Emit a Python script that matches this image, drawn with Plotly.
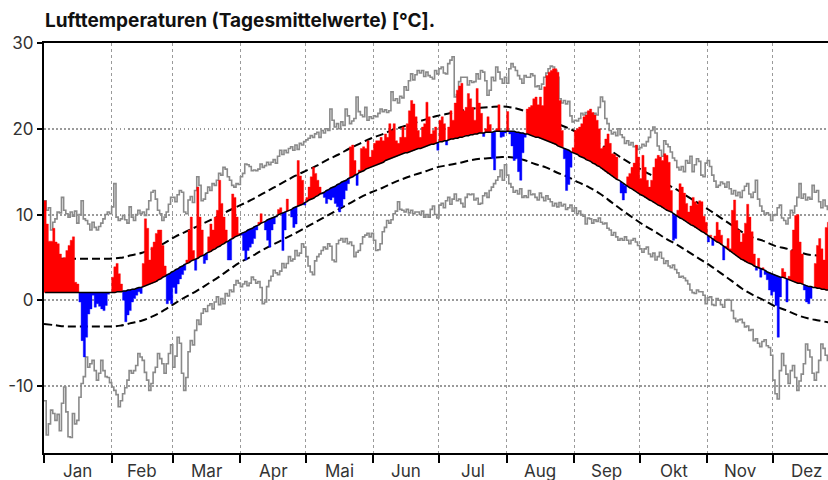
import plotly.graph_objects as go

# ---------------- data (day-of-year index 0 = 1 Jan) ----------------
months = ["Jan", "Feb", "Mar", "Apr", "Mai", "Jun", "Jul", "Aug", "Sep", "Okt", "Nov", "Dez"]
month_len = [31, 28, 31, 30, 31, 30, 31, 31, 30, 31, 30, 31]

# observed daily mean temperature
obs = [
    # Jan
    11.6, 8.9, 6.9, 6.9, 8.4, 6.8, 6.6, 5.4, 4.9, 5.0, 5.8, 6.4, 7.0, 7.4, 2.1, 1.9, -0.2, -4.7, -6.6, -4.3,
    -1.6, -1.0, 0.6, -0.8, -0.4, -0.7, -1.0, -1.2, -0.6, 0.7, 0.9,
    # Feb
    2.7, 3.9, 4.3, 3.1, 1.9, 0.0, -2.5, -1.7, -1.2, -0.2, 0.2, 0.6, 1.0, 0.8, 4.3, 9.5, 8.4, 4.7, 6.2, 6.8,
    7.8, 8.2, 8.2, 6.4, 4.0, -0.4, 0.0, -0.4,
    # Mar
    1.5, 0.8, 1.9, 2.5, 3.0, 3.5, 4.7, 8.2, 9.7, 5.8, 3.5, 13.2, 9.7, 8.2, 4.3, 4.7, 7.4, 8.9, 8.2, 9.7,
    10.5, 14.0, 11.3, 9.7, 8.2, 4.7, 4.7, 12.4, 12.0, 9.7, 7.8,
    # Apr
    7.6, 5.8, 4.7, 5.8, 6.2, 6.6, 7.2, 8.2, 9.1, 10.1, 9.1, 8.2, 7.0, 6.2, 8.2, 8.9, 9.7, 10.6, 10.8, 5.8,
    8.2, 11.8, 10.5, 9.7, 8.5, 8.9, 16.3, 14.5, 14.0, 11.1,
    # Mai
    12.0, 13.2, 14.4, 15.5, 14.8, 14.0, 13.2, 12.4, 12.0, 11.3, 11.8, 11.7, 12.0, 11.3, 10.9, 10.3, 10.9, 11.8, 12.8, 13.6,
    17.9, 18.1, 16.3, 13.4, 15.2, 17.7, 17.9, 17.7, 18.6, 16.7, 17.5,
    # Jun
    18.3, 18.6, 18.6, 19.0, 18.6, 19.4, 19.0, 20.6, 19.8, 20.6, 18.6, 18.3, 19.0, 20.2, 19.0, 20.6, 22.1, 23.3, 22.9, 21.4,
    19.8, 19.0, 20.2, 20.6, 23.1, 21.4, 19.4, 19.8, 20.2, 17.5,
    # Jul
    21.0, 21.4, 20.6, 18.1, 20.2, 22.1, 21.0, 23.0, 24.5, 25.0, 25.3, 22.1, 22.5, 24.1, 23.5, 22.5, 21.0, 24.7, 23.0, 21.8,
    19.1, 20.0, 21.4, 20.5, 16.5, 15.2, 20.0, 22.8, 19.0, 19.1, 19.5,
    # Aug
    22.0, 19.4, 18.0, 16.3, 16.5, 15.0, 14.0, 17.2, 19.0, 22.3, 22.5, 22.7, 23.5, 23.7, 22.8, 23.7, 22.7, 24.9, 26.2, 26.6,
    26.8, 27.0, 27.0, 26.6, 23.3, 19.8, 16.5, 12.8, 13.5, 15.5, 17.8,
    # Sep
    19.8, 20.0, 20.2, 20.6, 21.4, 21.6, 22.1, 22.3, 21.9, 21.6, 21.0, 20.0, 17.7, 17.9, 18.8, 19.4, 18.3, 17.1, 17.0, 16.7,
    14.0, 12.5, 11.7, 12.5, 14.4, 14.8, 15.5, 16.0, 18.1, 16.7,
    # Okt
    14.2, 16.9, 15.5, 14.0, 13.2, 14.0, 15.5, 16.5, 16.9, 16.7, 16.3, 17.1, 16.9, 16.1, 12.8, 7.0, 7.2, 10.5, 13.6, 13.2,
    12.5, 11.3, 10.3, 11.0, 12.0, 11.5, 11.2, 11.6, 11.5, 9.8, 9.1,
    # Nov
    6.8, 7.6, 6.4, 7.5, 9.1, 8.2, 7.6, 4.7, 6.3, 7.2, 6.0, 10.5, 11.7, 9.3, 8.2, 6.8, 7.8, 9.0, 11.2, 9.7,
    8.0, 5.4, 3.5, 4.9, 2.7, 3.8, 3.0, 2.4, 1.2, 0.6,
    # Dez
    1.0, -0.6, -4.3, 0.4, 3.7, 3.3, -0.2, 2.8, 5.8, 8.2, 9.9, 10.0, 6.8, 5.4, 1.2, -0.2, -0.4, 0.2, 1.5, 4.3,
    6.4, 7.2, 6.0, 4.7, 8.5, 9.1, 7.0, 6.0, 5.5, 4.0, 3.0,
]

# long-term mean (black line)
clim_mean = [
    # Jan
    0.9, 0.9, 0.9, 0.9, 0.9, 0.9, 0.9, 0.9, 0.9, 0.9, 0.9, 0.9, 0.9, 0.9, 0.9, 0.9, 0.9, 0.9, 0.9, 0.9,
    0.9, 0.9, 0.9, 0.9, 0.9, 0.9, 0.9, 0.9, 0.9, 0.9, 0.9,
    # Feb
    0.9, 0.9, 1.0, 1.0, 1.0, 1.1, 1.1, 1.2, 1.2, 1.3, 1.3, 1.4, 1.5, 1.5, 1.6, 1.7, 1.8, 1.9, 2.0, 2.1,
    2.2, 2.4, 2.5, 2.7, 2.8, 3.0, 3.1, 3.3,
    # Mar
    3.4, 3.6, 3.7, 3.9, 4.0, 4.2, 4.3, 4.4, 4.6, 4.7, 4.8, 4.9, 5.1, 5.2, 5.3, 5.5, 5.6, 5.7, 5.9, 6.0,
    6.2, 6.3, 6.5, 6.6, 6.8, 6.9, 7.1, 7.2, 7.4, 7.5, 7.6,
    # Apr
    7.8, 7.9, 8.0, 8.2, 8.3, 8.4, 8.6, 8.7, 8.8, 9.0, 9.1, 9.2, 9.4, 9.5, 9.6, 9.7, 9.8, 10.0, 10.1, 10.2,
    10.3, 10.4, 10.5, 10.6, 10.8, 10.9, 11.0, 11.1, 11.2, 11.4,
    # Mai
    11.5, 11.7, 11.8, 11.9, 12.1, 12.2, 12.4, 12.5, 12.6, 12.8, 12.9, 13.1, 13.2, 13.3, 13.5, 13.6, 13.8, 13.9, 14.0, 14.2,
    14.3, 14.4, 14.6, 14.7, 14.9, 15.0, 15.1, 15.3, 15.4, 15.5, 15.6,
    # Jun
    15.7, 15.8, 15.9, 16.0, 16.1, 16.3, 16.4, 16.5, 16.6, 16.7, 16.8, 16.9, 17.0, 17.1, 17.2, 17.2, 17.3, 17.4, 17.5, 17.6,
    17.7, 17.7, 17.8, 17.9, 18.0, 18.1, 18.2, 18.2, 18.3, 18.4,
    # Jul
    18.5, 18.5, 18.6, 18.6, 18.7, 18.8, 18.8, 18.9, 18.9, 19.0, 19.0, 19.1, 19.2, 19.2, 19.3, 19.3, 19.4, 19.4, 19.5, 19.5,
    19.5, 19.6, 19.6, 19.6, 19.6, 19.7, 19.7, 19.7, 19.7, 19.7, 19.7,
    # Aug
    19.7, 19.7, 19.7, 19.7, 19.6, 19.6, 19.5, 19.5, 19.4, 19.4, 19.3, 19.2, 19.1, 19.0, 19.0, 18.9, 18.8, 18.7, 18.6, 18.5,
    18.4, 18.3, 18.2, 18.0, 17.9, 17.8, 17.7, 17.6, 17.5, 17.3, 17.2,
    # Sep
    17.1, 17.0, 16.8, 16.7, 16.6, 16.4, 16.3, 16.2, 16.0, 15.9, 15.7, 15.6, 15.4, 15.2, 15.0, 14.8, 14.7, 14.5, 14.3, 14.1,
    14.0, 13.8, 13.6, 13.4, 13.3, 13.1, 13.0, 12.8, 12.7, 12.5,
    # Okt
    12.3, 12.2, 12.0, 11.9, 11.7, 11.6, 11.4, 11.3, 11.1, 11.0, 10.8, 10.7, 10.5, 10.4, 10.3, 10.1, 9.9, 9.8, 9.6, 9.5,
    9.3, 9.2, 9.0, 8.8, 8.7, 8.5, 8.4, 8.2, 8.0, 7.9, 7.7,
    # Nov
    7.5, 7.4, 7.2, 7.0, 6.8, 6.7, 6.5, 6.3, 6.1, 5.9, 5.7, 5.6, 5.4, 5.2, 5.0, 4.8, 4.7, 4.5, 4.4, 4.3,
    4.2, 4.0, 3.9, 3.8, 3.7, 3.6, 3.5, 3.3, 3.2, 3.1,
    # Dez
    3.0, 2.9, 2.8, 2.7, 2.7, 2.6, 2.5, 2.4, 2.3, 2.2, 2.1, 2.0, 2.0, 1.9, 1.8, 1.7, 1.6, 1.6, 1.5, 1.5,
    1.4, 1.4, 1.3, 1.3, 1.2, 1.2, 1.2, 1.1, 1.1, 1.0, 1.0,
]

# record highest daily mean (grey, upper)
rec_max = [
    11.6, 10.5, 10.8, 8.2, 9.1, 9.5, 10.3, 10.2, 12.0, 10.5, 10.1, 9.7, 10.3, 9.8, 10.4, 9.0, 10.0, 11.6, 9.5, 9.3,
    8.9, 8.2, 9.1, 8.5, 8.2, 8.6, 9.0, 9.5, 10.0, 10.3, 10.1,
    10.9, 13.6, 9.7, 9.3, 9.5, 9.9, 9.4, 9.0, 10.9, 9.7, 9.3, 10.0, 10.5, 10.1, 10.3, 9.9, 10.6, 11.6, 12.6, 12.8,
    11.8, 10.5, 10.1, 9.3, 9.7, 10.3, 11.2, 12.0,
    12.0, 11.5, 12.3, 12.8, 12.6, 10.3, 10.1, 11.7, 12.1, 11.4, 12.8, 14.4, 13.4, 11.6, 11.8, 12.5, 13.2, 12.8, 13.6, 13.4,
    14.0, 14.8, 14.6, 15.5, 15.3, 14.4, 14.0, 13.4, 13.2, 13.6, 13.5,
    14.4, 14.8, 15.9, 15.8, 15.6, 15.1, 15.2, 15.1, 15.3, 15.9, 15.5, 15.7, 16.1, 15.8, 16.1, 16.4, 16.0, 16.8, 17.5, 17.0,
    17.5, 17.2, 17.7, 17.9, 17.5, 18.1, 17.6, 18.3, 18.1, 18.5,
    18.7, 18.9, 19.2, 19.0, 19.4, 19.6, 19.0, 19.8, 19.5, 20.0, 19.8, 22.3, 21.0, 20.2, 20.6, 20.0, 20.8, 20.4, 22.3, 21.5,
    20.6, 20.9, 21.2, 23.7, 22.0, 21.6, 21.4, 22.5, 21.0, 21.4, 21.2,
    21.5, 21.4, 21.8, 22.3, 22.0, 22.2, 21.9, 22.1, 24.3, 23.3, 23.5, 23.0, 23.8, 23.6, 24.9, 24.5, 25.6, 26.4, 25.7, 26.3,
    26.8, 26.5, 26.8, 26.1, 26.6, 26.2, 26.0, 25.8, 26.8, 26.4,
    27.0, 27.2, 26.5, 26.4, 27.6, 28.0, 28.4, 23.7, 24.0, 25.5, 26.0, 26.0, 26.0, 25.1, 25.6, 25.4, 25.5, 26.4, 25.8, 26.8,
    26.6, 25.6, 23.9, 24.5, 26.0, 25.6, 27.2, 26.6, 25.8, 25.3, 26.0,
    25.3, 27.0, 27.6, 27.2, 26.8, 26.2, 25.8, 25.3, 26.2, 26.0, 26.0, 26.4, 26.2, 24.9, 25.0, 24.6, 25.2, 26.0, 26.5, 27.0,
    27.3, 27.2, 26.8, 26.0, 23.5, 23.0, 23.3, 22.9, 23.2, 21.5, 20.8,
    21.0, 20.9, 21.2, 21.8, 21.6, 21.9, 21.4, 21.5, 21.3, 21.8, 21.6, 22.5, 23.7, 23.2, 21.2, 20.6, 19.8, 19.4, 19.6, 19.2,
    20.0, 19.3, 19.0, 18.3, 18.6, 18.1, 18.4, 17.9, 18.0, 17.6,
    17.8, 18.2, 18.0, 18.5, 19.0, 19.8, 20.2, 19.5, 18.0, 17.5, 16.8, 18.6, 18.2, 17.9, 17.3, 16.6, 16.3, 15.5, 15.2, 15.6,
    15.0, 16.3, 16.0, 16.8, 15.0, 15.8, 16.5, 16.2, 14.6, 14.4, 16.0,
    16.3, 15.6, 14.6, 13.9, 13.2, 13.4, 13.8, 13.6, 13.2, 13.8, 13.0, 12.4, 12.8, 12.2, 12.6, 12.0, 12.8, 13.3, 13.6, 12.4,
    12.0, 12.6, 14.0, 11.8, 11.0, 10.4, 10.0, 10.2, 10.0, 9.3,
    9.9, 10.0, 10.8, 11.1, 9.6, 9.3, 8.9, 9.6, 10.5, 10.2, 11.0, 12.0, 13.6, 11.9, 12.4, 11.7, 12.0, 11.8, 13.4, 12.6,
    12.8, 11.5, 10.8, 11.7, 11.0, 10.6, 10.5, 11.0, 10.4, 10.8, 11.2,
]

# record lowest daily mean (grey, lower)
rec_min = [
    -11.7, -15.7, -14.4, -12.8, -13.2, -14.0, -13.3, -15.2, -12.0, -10.1, -13.0, -15.9, -16.0, -13.2, -14.4, -14.0, -11.3, -9.7, -8.9, -6.6,
    -7.8, -7.4, -7.0, -8.2, -9.3, -8.5, -7.0, -8.2, -8.9, -9.0, -9.6,
    -10.1, -10.5, -11.0, -12.4, -11.7, -10.9, -10.2, -9.3, -8.2, -8.5, -8.2, -7.6, -6.2, -6.6, -7.0, -8.4, -9.3, -10.5, -9.7, -8.4,
    -7.8, -6.2, -6.8, -7.4, -8.5, -7.4, -6.2, -5.2,
    -7.8, -6.5, -4.3, -5.0, -8.5, -10.5, -9.0, -6.0, -4.7, -5.2, -3.5, -2.3, -2.8, -1.5, -1.0, -1.3, -0.6, -0.4, -1.0, -0.2,
    0.4, -0.5, 0.2, -0.4, 0.8, 0.5, 1.2, 1.0, 1.8, 2.3, 2.0,
    1.6, 1.9, 2.2, 1.7, 2.0, 2.7, 2.4, 2.0, 2.2, 1.5, -0.4, -0.2, 1.6, 2.3, 2.8, 3.5, 3.2, 3.0, 3.4, 4.3,
    3.8, 4.3, 5.1, 4.6, 4.8, 5.8, 5.2, 5.5, 6.6, 6.2,
    5.1, 4.0, 3.3, 3.0, 4.6, 5.1, 5.4, 5.8, 6.2, 6.0, 6.6, 6.3, 4.7, 4.5, 6.6, 7.0, 7.2, 6.8, 7.2, 6.6,
    6.8, 6.4, 5.1, 5.6, 5.8, 6.6, 7.4, 7.6, 7.8, 7.4, 7.8,
    7.0, 5.8, 5.9, 6.6, 8.0, 8.5, 9.3, 9.0, 9.4, 10.1, 10.4, 11.5, 10.6, 10.5, 10.3, 10.6, 10.2, 10.5, 10.1, 10.3,
    10.3, 10.0, 10.4, 9.7, 10.0, 9.7, 10.6, 11.0, 10.0, 9.6,
    11.1, 11.3, 10.8, 11.6, 12.0, 11.2, 11.8, 12.4, 11.6, 11.8, 11.3, 10.9, 12.0, 12.4, 12.3, 12.4, 11.7, 11.9, 11.2, 11.3,
    12.2, 12.5, 12.0, 12.8, 13.2, 13.6, 14.0, 14.4, 15.2, 14.0, 15.8,
    14.6, 13.6, 13.2, 12.6, 12.8, 12.4, 13.0, 12.0, 12.2, 12.0, 12.8, 12.3, 12.4, 12.0, 11.7, 12.5, 12.0, 11.6, 12.2, 11.8,
    11.5, 11.0, 11.3, 10.9, 11.4, 11.0, 11.2, 10.6, 10.8, 11.1, 10.4,
    10.8, 10.1, 10.4, 10.0, 9.8, 8.9, 9.6, 9.5, 9.0, 9.4, 9.2, 9.6, 9.1, 8.9, 9.0, 8.4, 8.2, 7.6, 7.9, 7.4,
    7.0, 7.2, 7.0, 7.4, 7.0, 6.6, 7.0, 7.2, 6.8, 6.4,
    6.0, 5.6, 6.0, 6.2, 5.4, 5.1, 5.5, 4.7, 5.1, 5.6, 4.9, 4.3, 4.6, 4.0, 3.8, 4.1, 3.6, 3.2, 2.7, 2.8,
    2.6, 2.3, 1.9, 1.2, 0.9, 0.8, 1.2, 1.0, 1.0, 0.6, -0.4,
    0.3, 0.4, -0.5, -0.6, 0.2, 0.0, -0.5, -0.8, 0.0, 0.1, 0.0, -1.2, -2.1, -2.5, -2.3, -2.2, -2.6, -3.1, -3.0, -3.5,
    -3.4, -4.7, -4.5, -5.0, -5.4, -4.8, -4.6, -5.3, -5.5, -6.4,
    -9.3, -10.9, -11.5, -8.2, -6.2, -7.6, -8.6, -9.7, -8.2, -7.6, -9.0, -10.5, -9.4, -8.6, -7.4, -5.1, -5.8, -6.6, -8.5, -9.3,
    -8.4, -7.0, -5.1, -5.6, -6.4, -7.0, -6.5, -7.2, -6.0, -6.8, -7.4,
]

# variability band (dashed), sampled every 5 days
band_days = [0, 5, 10, 15, 20, 25, 30, 35, 40, 45, 50, 55, 60, 65, 70, 75, 80, 85, 90, 95,
             100, 105, 110, 115, 120, 125, 130, 135, 140, 145, 150, 155, 160, 165, 170, 175, 180, 185, 190, 195,
             200, 205, 210, 215, 220, 225, 230, 235, 240, 245, 250, 255, 260, 265, 270, 275, 280, 285, 290, 295,
             300, 305, 310, 315, 320, 325, 330, 335, 340, 345, 350, 355, 360, 364]
band_upper = [4.85, 4.85, 4.85, 4.85, 4.85, 4.85, 4.85, 4.95, 5.25, 5.55, 6.0, 6.65, 7.4, 8.0, 8.6, 9.2, 9.8, 10.5, 11.1, 11.7,
              12.4, 13.1, 13.8, 14.5, 15.1, 15.7, 16.4, 17.0, 17.7, 18.3, 18.9, 19.35, 19.9, 20.3, 20.7, 21.1, 21.5, 21.75, 22.05, 22.3,
              22.45, 22.55, 22.6, 22.45, 22.1, 21.6, 21.2, 20.6, 20.1, 19.5, 18.9, 18.2, 17.4, 16.55, 15.8, 15.05, 14.35, 13.6, 12.9, 12.1,
              11.3, 10.5, 9.65, 8.8, 7.95, 7.3, 6.9, 6.35, 6.05, 5.7, 5.35, 5.2, 5.05, 4.85]
band_lower = [-2.75, -2.9, -3.05, -3.05, -3.05, -3.05, -3.05, -2.95, -2.65, -2.35, -1.85, -1.15, -0.35, 0.4, 1.1, 1.9, 2.7, 3.6, 4.45, 5.1,
              5.85, 6.5, 7.15, 7.8, 8.5, 9.2, 9.9, 10.6, 11.3, 12.0, 12.6, 13.1, 13.7, 14.2, 14.65, 15.05, 15.5, 15.75, 16.0, 16.3,
              16.5, 16.6, 16.7, 16.65, 16.35, 15.9, 15.5, 14.9, 14.4, 13.75, 13.15, 12.4, 11.45, 10.5, 9.6, 8.75, 8.0, 7.2, 6.5, 5.7,
              4.9, 4.1, 3.2, 2.3, 1.35, 0.6, 0.0, -0.7, -1.15, -1.7, -2.1, -2.35, -2.6, -2.8]

y_ticks = [-10, 0, 10, 20, 30]
y_tick_text = ["-10", "0", "10", "20", "30"]

assert len(obs) == 365, len(obs)
assert len(clim_mean) == 365, len(clim_mean)
assert len(rec_max) == 365, len(rec_max)
assert len(rec_min) == 365, len(rec_min)
assert len(band_days) == len(band_upper) == len(band_lower)

# ---------------- derived geometry ----------------
month_start = []
acc = 0
for L in month_len:
    month_start.append(acc)
    acc += L
month_mid = [s + L / 2 for s, L in zip(month_start, month_len)]
n = len(obs)


def anomaly_polygons(positive):
    xs, ys = [], []
    i = 0
    while i < n:
        d = obs[i] - clim_mean[i]
        ok = d > 0 if positive else d < 0
        if not ok:
            i += 1
            continue
        j = i
        while j + 1 < n:
            d2 = obs[j + 1] - clim_mean[j + 1]
            if (d2 > 0 if positive else d2 < 0):
                j += 1
            else:
                break
        px, py = [], []
        for k in range(i, j + 1):
            px += [k, k + 1]
            py += [obs[k], obs[k]]
        for k in range(j, i - 1, -1):
            px += [k + 1, k]
            py += [clim_mean[k], clim_mean[k]]
        px += [px[0], None]
        py += [py[0], None]
        xs += px
        ys += py
        i = j + 1
    return xs, ys


fig = go.Figure()

step_x = list(range(n + 1))
for rec in (rec_max, rec_min):
    fig.add_trace(go.Scatter(x=step_x, y=rec + [rec[-1]], mode="lines", line_shape="hv",
                             line=dict(color="#8a8a8a", width=1.6), hoverinfo="skip"))

for band in (band_upper, band_lower):
    fig.add_trace(go.Scatter(x=band_days, y=band, mode="lines", line_shape="spline",
                             line=dict(color="black", width=2, dash="8px,4px"), hoverinfo="skip"))

rx, ry = anomaly_polygons(True)
bx, by = anomaly_polygons(False)
fig.add_trace(go.Scatter(x=rx, y=ry, mode="lines", fill="toself", fillcolor="#ff0000",
                         line=dict(color="#ff0000", width=0.4), hoverinfo="skip"))
fig.add_trace(go.Scatter(x=bx, y=by, mode="lines", fill="toself", fillcolor="#0000ff",
                         line=dict(color="#0000ff", width=0.4), hoverinfo="skip"))

fig.add_trace(go.Scatter(x=[i + 0.5 for i in range(n)], y=clim_mean, mode="lines",
                         line=dict(color="black", width=1.5), hoverinfo="skip"))

for m, c in zip(months, month_mid):
    fig.add_annotation(x=c, xref="x", y=0, yref="paper", yshift=-18, yanchor="middle",
                       text=m, showarrow=False, font=dict(family="Inter", size=17, color="#333"))

fig.update_layout(
    width=828, height=480,
    margin=dict(l=44, r=0, t=43, b=27),
    plot_bgcolor="white", paper_bgcolor="white",
    showlegend=False,
    font=dict(family="Inter", size=17, color="#333"),
    title=dict(text="<b>Lufttemperaturen (Tagesmittelwerte) [°C].</b>",
               x=45 / 828, xanchor="left", xref="container",
               y=1 - 20 / 480, yanchor="middle", yref="container",
               font=dict(family="Inter", size=19, color="#111")),
)
fig.update_xaxes(range=[0, 359.3], tickvals=month_start, showticklabels=False,
                 ticks="outside", ticklen=8, tickwidth=1.5, tickcolor="black",
                 showline=True, linecolor="black", linewidth=2, mirror=True,
                 showgrid=True, gridcolor="#9a9a9a", gridwidth=1, griddash="3px,3px",
                 zeroline=False)
fig.update_yaxes(range=[-17.8, 30], tickvals=y_ticks, ticktext=y_tick_text, ticks="outside", ticklen=5,
                 tickwidth=1.5, tickcolor="black",
                 showline=True, linecolor="black", linewidth=2,
                 showgrid=True, gridcolor="#9a9a9a", gridwidth=1.5, griddash="1.5px,2.5px",
                 zeroline=False, tickfont=dict(family="Inter", size=17, color="#333"))

fig.write_html("out.html", config={"displayModeBar": False},
               post_script="document.body.style.margin='0';document.body.style.overflow='hidden';")
